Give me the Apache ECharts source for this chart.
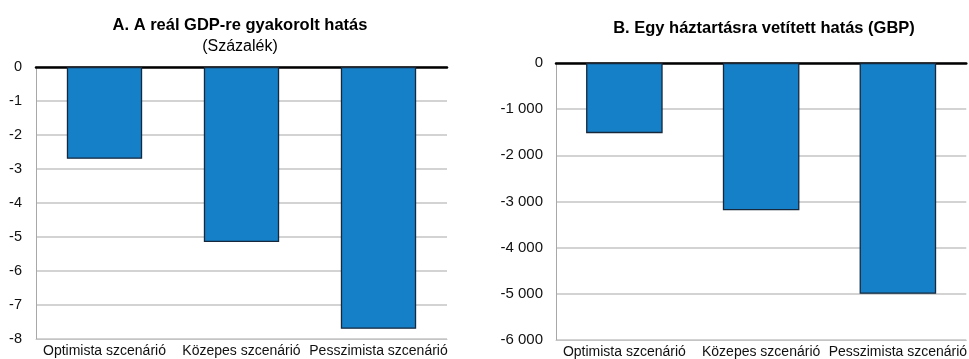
<!DOCTYPE html>
<html>
<head>
<meta charset="utf-8">
<script src="https://cdn.jsdelivr.net/npm/echarts@6/dist/echarts.min.js"></script>
<style>
  html, body { margin: 0; padding: 0; background: #ffffff; }
  #chart { width: 969px; height: 359px; }
</style>
</head>
<body>
<div id="chart"></div>
<script>
// Scenario categories shared by both panels
const categories = ['Optimista szcenárió', 'Közepes szcenárió', 'Pesszimista szcenárió'];

// Panel A: impact on real GDP (percent)
const gdpImpact = [-2.7, -5.15, -7.7];

// Panel B: impact per household (GBP)
const householdImpact = [-1520, -3190, -5000];

// Axis ranges
const gdpAxis = { min: -8, max: 0, interval: 1 };
const householdAxis = { min: -6000, max: 0, interval: 1000 };

const FONT = '"Liberation Sans", Arial, sans-serif';
const BAR_COLOR = '#1580c8';
const BAR_BORDER = '#17283c';
const GRID_COLOR = '#c4c4c4';

// Thousands separated with a space, e.g. -1 000
function spaced(v) {
  const s = Math.abs(v).toString().replace(/\B(?=(\d{3})+(?!\d))/g, ' ');
  return (v < 0 ? '-' : '') + s;
}

const chart = echarts.init(document.getElementById('chart'), null, { renderer: 'canvas' });

function bottomX(gridIndex) {
  return {
    type: 'category', gridIndex, data: categories, position: 'bottom',
    axisLine: { onZero: false, show: true, lineStyle: { color: GRID_COLOR, width: 1 } },
    axisTick: { show: false },
    axisLabel: { color: '#111', fontFamily: FONT, fontSize: 14, margin: 5, interval: 0 }
  };
}
function zeroX(gridIndex) {
  return {
    type: 'category', gridIndex, data: categories, position: 'top',
    axisLine: { onZero: false, show: true, lineStyle: { color: '#000', width: 2.5 } },
    axisTick: { show: false }, axisLabel: { show: false }
  };
}
function valueY(gridIndex, range, formatter, margin, size) {
  return {
    type: 'value', gridIndex, min: range.min, max: range.max, interval: range.interval,
    axisLine: { show: true, lineStyle: { color: '#a8a8a8', width: 1 } },
    axisTick: { show: false },
    splitLine: { show: true, lineStyle: { color: GRID_COLOR, width: 1.5 } },
    axisLabel: { color: '#111', fontFamily: FONT, fontSize: size, margin, formatter }
  };
}

const option = {
  backgroundColor: '#ffffff',
  animation: false,
  title: [
    {
      text: 'A. A reál GDP-re gyakorolt hatás',
      subtext: '(Százalék)',
      left: 235, top: 12, textAlign: 'center', itemGap: 5,
      textStyle: { fontFamily: FONT, fontSize: 16.5, fontWeight: 'bold', color: '#000' },
      subtextStyle: { fontFamily: FONT, fontSize: 16, color: '#000' }
    },
    {
      text: 'B. Egy háztartásra vetített hatás (GBP)',
      left: 759, top: 15, textAlign: 'center',
      textStyle: { fontFamily: FONT, fontSize: 16.5, fontWeight: 'bold', color: '#000' }
    }
  ],
  grid: [
    { left: 36, right: 522, top: 67, bottom: 20 },
    { left: 556, right: -4, top: 63, bottom: 19 }
  ],
  xAxis: [bottomX(0), zeroX(0), bottomX(1), zeroX(1)],
  yAxis: [
    valueY(0, gdpAxis, v => String(v), 14, 14.5),
    valueY(1, householdAxis, v => spaced(v), 13, 15)
  ],
  series: [
    {
      type: 'bar', xAxisIndex: 0, yAxisIndex: 0, data: gdpImpact, barWidth: '55%',
      itemStyle: { color: BAR_COLOR, borderColor: BAR_BORDER, borderWidth: 1.3 }, z: 1
    },
    {
      type: 'bar', xAxisIndex: 2, yAxisIndex: 1, data: householdImpact, barWidth: '56%',
      itemStyle: { color: BAR_COLOR, borderColor: BAR_BORDER, borderWidth: 1.3 }, z: 1
    }
  ]
};

chart.setOption(option);
</script>
</body>
</html>
